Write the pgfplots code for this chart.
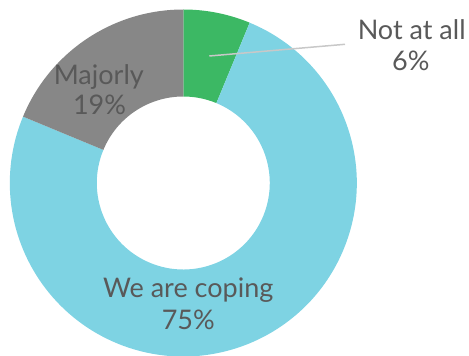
\documentclass[border=0pt]{standalone}
\usepackage{pgfplots}
\pgfplotsset{compat=1.18}
\usepackage{fontspec}
\setmainfont{Lato}
\definecolor{cgreen}{HTML}{3CB864}
\definecolor{cblue}{HTML}{7ED3E3}
\definecolor{cgray}{HTML}{878787}
\definecolor{ctext}{HTML}{595959}
\definecolor{cline}{HTML}{C8C8C8}
\begin{document}
\begin{tikzpicture}
\begin{axis}[width=469pt,height=356pt,scale only axis,
  xmin=0,xmax=469,ymin=0,ymax=356,hide axis,clip=false]
\coordinate (bl) at (axis cs:0,0);
\coordinate (tr) at (axis cs:469,356);
\def\s{90}
\foreach \v/\c in {6.25/cgreen,75/cblue,18.75/cgray}{
  \pgfmathsetmacro\e{\s-3.6*\v}
  \pgfmathsetmacro\ei{\e+180}
  \edef\temp{\noexpand\fill[\c] (axis cs:183.3,173) ++(\s:173.5pt)
     arc[start angle=\s,end angle=\e,radius=173.5pt] -- ++(\ei:87pt)
     arc[start angle=\e,end angle=\s,radius=86.5pt] -- cycle;}
  \temp
  \global\let\s\e
}
\draw[cline,line width=1.5pt] (axis cs:209.3,300) -- (axis cs:345,311.7);
\begin{scope}[every node/.style={text=ctext,font=\fontsize{27}{32}\selectfont,anchor=base,inner sep=0pt}]
\node at (axis cs:411.7,316.7) {Not at all};
\node at (axis cs:410.8,285.3) {6\%};
\node at (axis cs:98.8,271.5) {Majorly};
\node at (axis cs:99.5,241) {19\%};
\node at (axis cs:188.3,58.3) {We are coping};
\node at (axis cs:188.3,26) {75\%};
\end{scope}
\end{axis}
\pgfresetboundingbox
\path[use as bounding box] (bl) rectangle (tr);
\end{tikzpicture}
\end{document}
